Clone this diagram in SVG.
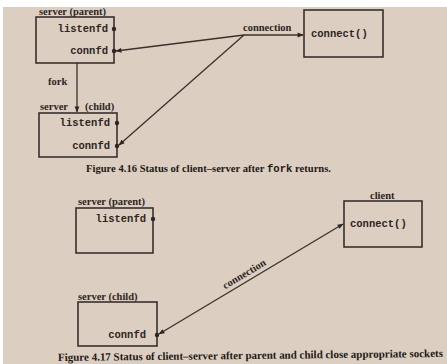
<svg xmlns="http://www.w3.org/2000/svg" width="447" height="364" viewBox="0 0 447 364">
<defs>
<style>
.bg{fill:#dccec1}
.box{fill:none;stroke:#3a302c;stroke-width:1.6}
.ln{fill:none;stroke:#3a302c;stroke-width:1.3}
.dot{fill:#2e2622}
.mono{font-family:"Liberation Mono","DejaVu Sans Mono",monospace;font-weight:bold;font-size:10.5px;fill:#2e2622}
.lbl{font-family:"Liberation Serif","DejaVu Serif",serif;font-weight:bold;font-size:10.5px;fill:#2e2622}
.cap{font-family:"Liberation Serif","DejaVu Serif",serif;font-weight:bold;fill:#221a16}
.capm{font-family:"Liberation Mono",monospace;font-weight:bold}
</style>
<marker id="ah" viewBox="0 0 10 10" refX="9" refY="5" markerWidth="7" markerHeight="6" orient="auto-start-reverse" markerUnits="userSpaceOnUse">
<path d="M0,1 L10,5 L0,9 Z" fill="#2e2622"/>
</marker>
</defs>
<rect x="0" y="0" width="447" height="364" fill="#ffffff"/>
<rect class="bg" x="3" y="7" width="444" height="357"/>

<g id="connectors">
<line class="ln" x1="77" y1="63" x2="77" y2="112" marker-end="url(#ah)"/>
<line class="ln" x1="244" y1="35" x2="116" y2="51" marker-end="url(#ah)"/>
<line class="ln" x1="244" y1="35" x2="119" y2="145" marker-end="url(#ah)"/>
<line class="ln" x1="244" y1="35" x2="303" y2="35" marker-end="url(#ah)"/>
<text class="lbl" x="243" y="31" font-size="9.5">connection</text>
<text class="lbl" x="48" y="85">fork</text>
<line class="ln" x1="159" y1="334" x2="343" y2="224" marker-start="url(#ah)" marker-end="url(#ah)"/>
<text class="lbl" font-size="9.5" text-anchor="middle" transform="translate(246,277) rotate(-31)">connection</text>
</g>

<g id="parent1">
<text class="lbl" x="39" y="15">server (parent)</text>
<rect class="box" x="36" y="17" width="78" height="46"/>
<text class="mono" x="108" y="32" text-anchor="end">listenfd</text>
<circle class="dot" cx="114" cy="29" r="2.2"/>
<text class="mono" x="108" y="54" text-anchor="end">connfd</text>
<circle class="dot" cx="114" cy="51" r="2.2"/>
</g>

<g id="child1">
<text class="lbl" x="40" y="110">server</text>
<text class="lbl" x="85" y="110">(child)</text>
<rect class="box" x="39" y="113" width="78" height="44"/>
<text class="mono" x="110" y="126" text-anchor="end">listenfd</text>
<circle class="dot" cx="117" cy="123" r="2.2"/>
<text class="mono" x="110" y="149" text-anchor="end">connfd</text>
<circle class="dot" cx="117" cy="146" r="2.2"/>
</g>

<g id="client1">
<rect class="box" x="304" y="10" width="79" height="47"/>
<text class="mono" x="311" y="37">connect()</text>
</g>

<text class="cap" font-size="10.6" x="86" y="172">Figure 4.16  Status of client–server after <tspan class="capm">fork</tspan> returns.</text>

<g id="parent2">
<text class="lbl" x="78" y="205">server (parent)</text>
<rect class="box" x="76" y="208" width="77" height="45"/>
<text class="mono" x="146" y="222" text-anchor="end">listenfd</text>
<circle class="dot" cx="153" cy="219" r="2.2"/>
</g>

<g id="child2">
<text class="lbl" x="78" y="300">server (child)</text>
<rect class="box" x="78" y="302" width="79" height="44"/>
<text class="mono" x="146" y="338" text-anchor="end">connfd</text>
<circle class="dot" cx="157" cy="335" r="2.2"/>
</g>

<g id="client2">
<text class="lbl" x="370" y="199">client</text>
<rect class="box" x="344" y="201" width="78" height="46"/>
<text class="mono" x="350" y="227">connect()</text>
</g>

<text class="cap" font-size="11" transform="rotate(-0.6 58 360)" x="58" y="361" textLength="385" lengthAdjust="spacingAndGlyphs">Figure 4.17  Status of client–server after parent and child close appropriate sockets</text>
</svg>
